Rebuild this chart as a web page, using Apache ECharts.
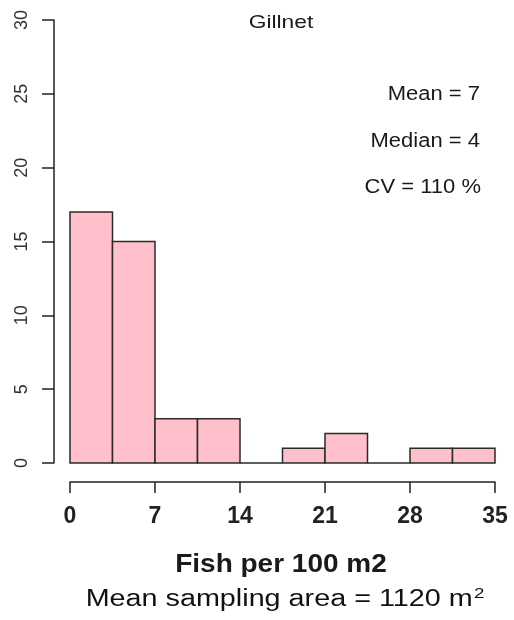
<!DOCTYPE html>
<html>
<head>
<meta charset="utf-8">
<style>
  html, body { margin: 0; padding: 0; background: #ffffff; }
  #chart { width: 514px; height: 620px; }
</style>
<script src="https://cdn.jsdelivr.net/npm/echarts@6/dist/echarts.min.js"></script>
</head>
<body>
<div id="chart"></div>
<script>
// Histogram of gillnet catch density (fish per 100 m2), bin width 3.5
const binStarts = [0, 3.5, 7, 10.5, 14, 17.5, 21, 24.5, 28, 31.5];
const binWidth = 3.5;
const counts = [17, 15, 3, 3, 0, 1, 2, 0, 1, 1];
const xTicks = [0, 7, 14, 21, 28, 35];
const yTicks = [0, 5, 10, 15, 20, 25, 30];
const plotTitle = 'Gillnet';
const statLines = ['Mean = 7', 'Median = 4', 'CV = 110 %'];
const xTitle = 'Fish per 100 m2';
const footnote = 'Mean sampling area = 1120 m{sup|2}';

const histData = binStarts.map((s, i) => [s, s + binWidth, counts[i]]);

const SANS = 'Liberation Sans, Arial, sans-serif';

const chart = echarts.init(document.getElementById('chart'), null, { renderer: 'canvas' });

// Free-standing text, widened horizontally with scaleX
function label(text, x, y, size, align, sx, bold) {
  return {
    type: 'text',
    x: x, y: y,
    scaleX: sx,
    silent: true,
    style: {
      text: text,
      fontFamily: SANS,
      fontSize: size,
      fontWeight: bold ? 'bold' : 'normal',
      fill: '#1a1a1a',
      align: align,
      verticalAlign: 'middle'
    }
  };
}

const option = {
  backgroundColor: '#ffffff',
  animation: false,
  grid: { left: 70, right: 19, top: 20, bottom: 157 },
  xAxis: {
    type: 'value',
    min: xTicks[0],
    max: xTicks[xTicks.length - 1],
    interval: 7,
    offset: 19,
    splitLine: { show: false },
    axisLine: { show: true, onZero: false, lineStyle: { color: '#222', width: 1.5 } },
    axisTick: { show: true, length: 11, lineStyle: { color: '#222', width: 1.5 } },
    axisLabel: {
      margin: 23,
      fontFamily: SANS,
      fontWeight: 'bold',
      fontSize: 23,
      color: '#222'
    }
  },
  yAxis: {
    type: 'value',
    min: yTicks[0],
    max: yTicks[yTicks.length - 1],
    interval: 5,
    offset: 16,
    splitLine: { show: false },
    axisLine: { show: true, onZero: false, lineStyle: { color: '#222', width: 1.5 } },
    axisTick: { show: true, length: 12, lineStyle: { color: '#222', width: 1.5 } },
    axisLabel: {
      rotate: 90,
      margin: 23,
      fontFamily: SANS,
      fontSize: 18,
      color: '#333'
    }
  },
  series: [{
    type: 'custom',
    data: histData,
    encode: { x: [0, 1], y: 2 },
    renderItem: function (params, api) {
      const p0 = api.coord([api.value(0), 0]);
      const p1 = api.coord([api.value(1), api.value(2)]);
      return {
        type: 'rect',
        shape: { x: p0[0], y: p1[1], width: p1[0] - p0[0], height: p0[1] - p1[1] },
        style: { fill: '#ffc0cb', stroke: '#2a2a2a', lineWidth: 1.5 }
      };
    }
  }],
  graphic: [
    label(plotTitle, 281, 23, 19, 'center', 1.2, false),
    label(statLines[0], 480, 94, 20, 'right', 1.1, false),
    label(statLines[1], 480, 141, 20, 'right', 1.1, false),
    label(statLines[2], 481, 187, 20, 'right', 1.1, false),
    label(xTitle, 281, 565, 25, 'center', 1.12, true),
    {
      type: 'text',
      x: 285, y: 600,
      scaleX: 1.25,
      silent: true,
      style: {
        text: footnote,
        fontFamily: SANS,
        fontSize: 23,
        fill: '#111',
        align: 'center',
        verticalAlign: 'middle',
        rich: {
          sup: { fontFamily: SANS, fontSize: 15, fill: '#111', verticalAlign: 'top', padding: [0, 0, 12, 1] }
        }
      }
    }
  ]
};

chart.setOption(option);
</script>
</body>
</html>
